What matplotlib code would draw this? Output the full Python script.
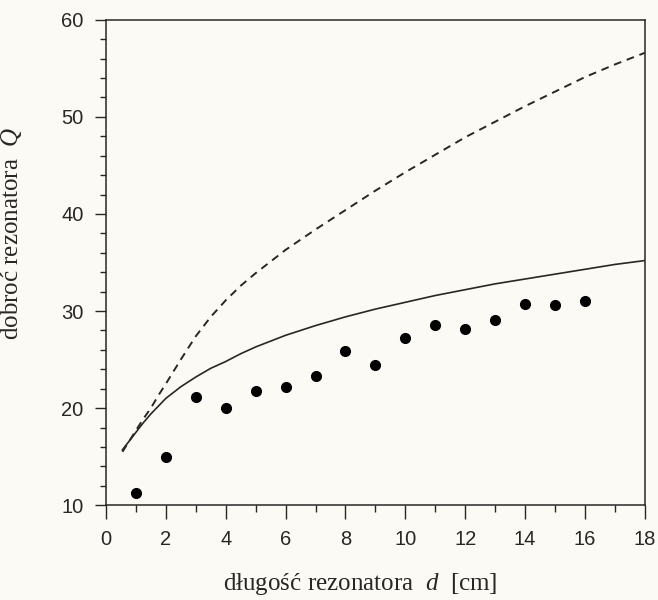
import matplotlib
matplotlib.use("Agg")
import matplotlib.pyplot as plt
from matplotlib.ticker import MultipleLocator

# measured resonator quality factor vs resonator length
d_meas = [1, 2, 3, 4, 5, 6, 7, 8, 9, 10, 11, 12, 13, 14, 15, 16]
q_meas = [11.3, 15.0, 21.1, 20.0, 21.8, 22.2, 23.3, 25.9, 24.4, 27.2,
          28.6, 28.1, 29.1, 30.7, 30.6, 31.0]

# model curves
d_model = [0.55, 0.8, 1.0, 1.25, 1.5, 1.75, 2.0, 2.5, 3.0, 3.5, 4.0, 4.5,
           5.0, 6.0, 7.0, 8.0, 9.0, 10.0, 11.0, 12.0, 13.0, 14.0, 15.0,
           16.0, 17.0, 18.0]
q_solid = [15.7, 16.7, 17.5, 18.5, 19.4, 20.2, 21.0, 22.2, 23.2, 24.1,
           24.8, 25.6, 26.3, 27.5, 28.5, 29.4, 30.2, 30.9, 31.6, 32.2,
           32.8, 33.3, 33.8, 34.3, 34.8, 35.2]
q_dashed = [15.5, 16.7, 17.7, 18.9, 20.0, 21.3, 22.5, 25.0, 27.4, 29.4,
            31.1, 32.6, 33.9, 36.3, 38.4, 40.4, 42.4, 44.3, 46.1, 47.9,
            49.5, 51.1, 52.6, 54.1, 55.4, 56.6]

plt.rcParams["mathtext.fontset"] = "custom"
plt.rcParams["mathtext.rm"] = "Liberation Serif"
plt.rcParams["mathtext.it"] = "Liberation Serif:italic"

bg = "#fbfaf4"
ink = "#2a2626"

fig = plt.figure(figsize=(6.58, 6.0), dpi=100, facecolor=bg)
ax = fig.add_axes([0.161, 0.158, 0.819, 0.809], facecolor=bg)

ax.plot(d_model, q_dashed, color=ink, lw=1.4, ls=(0, (4, 3)))
ax.plot(d_model, q_solid, color=ink, lw=1.2)
ax.plot(d_meas, q_meas, "o", color="black", ms=7)

ax.set_xlim(0, 18)
ax.set_ylim(10, 60)
ax.xaxis.set_major_locator(MultipleLocator(2))
ax.xaxis.set_minor_locator(MultipleLocator(1))
ax.yaxis.set_major_locator(MultipleLocator(10))
ax.yaxis.set_minor_locator(MultipleLocator(2))

ax.tick_params(which="both", direction="out", color=ink, width=1.0,
               top=False, right=False)
ax.tick_params(axis="x", which="major", length=10, pad=8)
ax.tick_params(axis="x", which="minor", length=5)
ax.tick_params(axis="y", which="major", length=8, pad=8)
ax.tick_params(axis="y", which="minor", length=4.5)
for lab in ax.get_xticklabels() + ax.get_yticklabels():
    lab.set_fontfamily("Liberation Sans")
    lab.set_fontsize(14.5)
    lab.set_color(ink)

for sp in ax.spines.values():
    sp.set_color(ink)
    sp.set_linewidth(1.1)

ax.set_xlabel(r"długość rezonatora  $d$  [cm]", family="Liberation Serif",
              fontsize=18, color=ink)
ax.set_ylabel(r"dobroć rezonatora  $Q$", family="Liberation Serif",
              fontsize=18, color=ink)
ax.xaxis.set_label_coords(0.471, -0.135)
ax.yaxis.set_label_coords(-0.152, 0.561)

fig.savefig("out.png", dpi=100, facecolor=bg)
